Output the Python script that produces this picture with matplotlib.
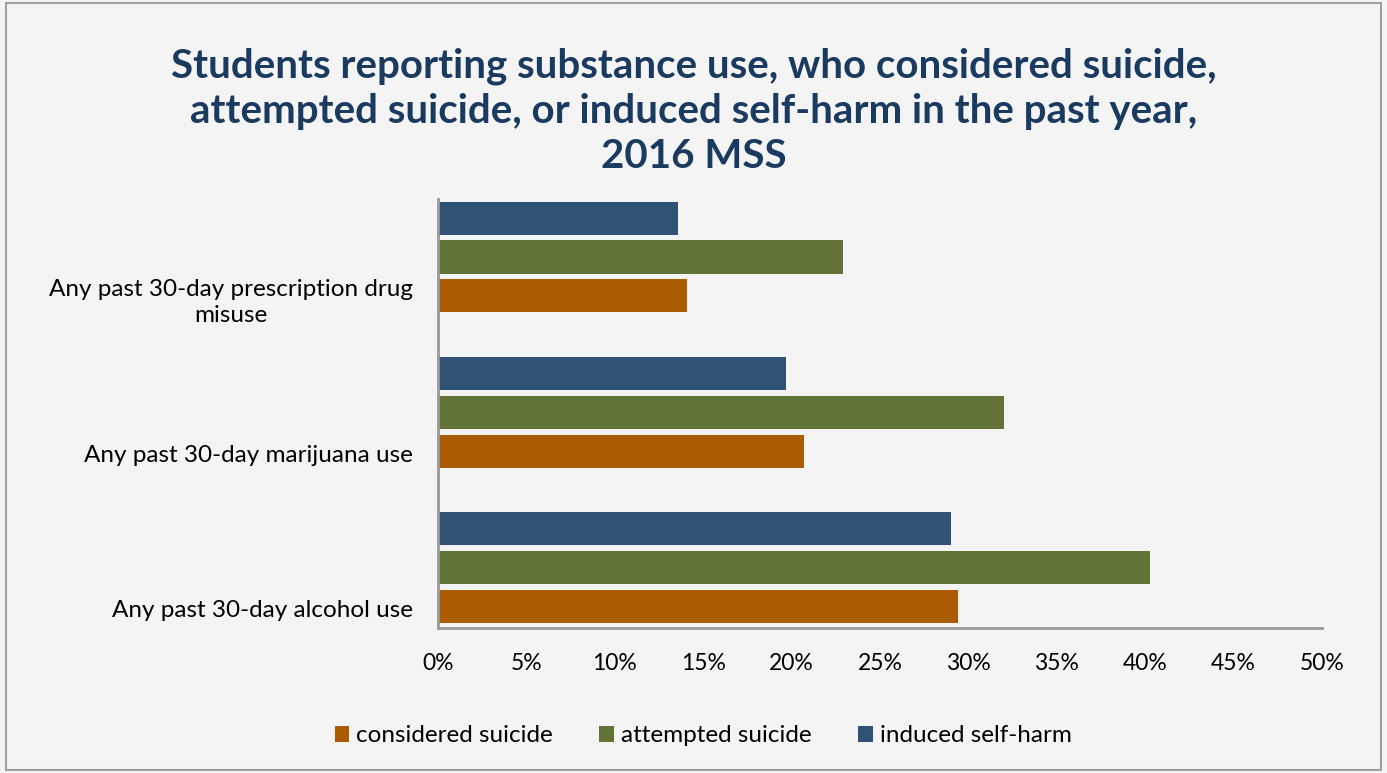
import numpy as np
import matplotlib.pyplot as plt
from matplotlib.patches import Rectangle

# data (bottom to top)
categories = ['Any past 30-day alcohol use',
              'Any past 30-day marijuana use',
              'Any past 30-day prescription drug\nmisuse']
considered = [29.4, 20.7, 14.1]
attempted = [40.3, 32.0, 22.9]
self_harm = [29.0, 19.7, 13.6]
xticks = [0, 5, 10, 15, 20, 25, 30, 35, 40, 45, 50]

bg = '#f4f4f4'
c_orange = '#ab5c00'
c_green = '#617337'
c_blue = '#2f5275'
title_col = '#1b3a5f'

plt.rcParams['font.family'] = ['Lato', 'DejaVu Sans']

fig = plt.figure(figsize=(13.87, 7.73), dpi=100, facecolor=bg)
fig.patches.append(Rectangle((0.004, 0.004), 0.992, 0.992, transform=fig.transFigure,
                             fill=False, edgecolor='#a0a0a0', linewidth=1.5))
ax = fig.add_axes([0.3158, 0.1876, 0.9531 - 0.3158, 0.7426 - 0.1876])
ax.set_facecolor(bg)

y = np.arange(len(categories))
h = 0.213
step = 0.25
ax.barh(y - step, considered, height=h, color=c_orange, label='considered suicide')
ax.barh(y, attempted, height=h, color=c_green, label='attempted suicide')
ax.barh(y + step, self_harm, height=h, color=c_blue, label='induced self-harm')

ax.set_xlim(0, 50)
ax.set_ylim(-0.39, 2.374)
ax.set_xticks(xticks)
ax.set_xticklabels([f'{v}%' for v in xticks], fontsize=16.5)
# excel puts the category labels a bit below the group centre
ax.set_yticks(y - 0.265)
ax.set_yticklabels(categories, fontsize=17.5, multialignment='center', linespacing=1.3)
ax.tick_params(length=0)
ax.tick_params(axis='x', pad=18)
ax.tick_params(axis='y', pad=18)
for s in ['top', 'right']:
    ax.spines[s].set_visible(False)
for s in ['left', 'bottom']:
    ax.spines[s].set_color('#999999')
    ax.spines[s].set_linewidth(2)

fig.text(0.5, 0.856, 'Students reporting substance use, who considered suicide,\n'
         'attempted suicide, or induced self-harm in the past year,\n2016 MSS',
         ha='center', va='center', fontsize=29, fontweight='bold', color=title_col,
         linespacing=1.28)

fig.legend(loc='center', bbox_to_anchor=(0.507, 0.048), ncol=3, frameon=False,
           fontsize=17.5, handlelength=0.6, handleheight=0.6, handletextpad=0.3,
           columnspacing=1.9)

fig.savefig('out.png', dpi=100, facecolor=bg)
